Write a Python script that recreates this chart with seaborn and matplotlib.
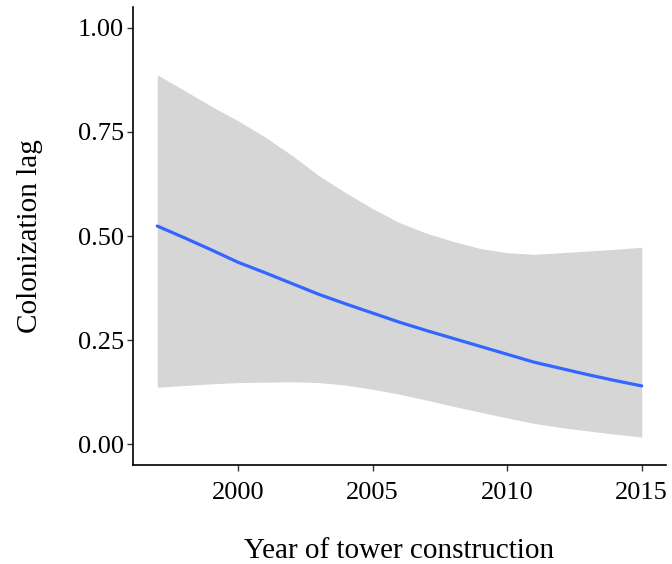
import numpy as np
import pandas as pd
import matplotlib
matplotlib.use("Agg")
import matplotlib.pyplot as plt
import seaborn as sns

# Fitted values (one per year).
years = [1997, 1998, 1999, 2000, 2001, 2002, 2003, 2004, 2005, 2006,
         2007, 2008, 2009, 2010, 2011, 2012, 2013, 2014, 2015]
fit = [0.524, 0.496, 0.467, 0.437, 0.412, 0.386, 0.360, 0.337, 0.315, 0.293,
       0.273, 0.254, 0.235, 0.216, 0.197, 0.182, 0.167, 0.153, 0.140]
upper = [0.887, 0.850, 0.812, 0.777, 0.738, 0.694, 0.645, 0.604, 0.566, 0.532,
         0.507, 0.487, 0.470, 0.460, 0.456, 0.460, 0.464, 0.468, 0.473]
lower = [0.137, 0.141, 0.145, 0.148, 0.149, 0.150, 0.148, 0.142, 0.132, 0.120,
         0.106, 0.091, 0.077, 0.063, 0.050, 0.040, 0.032, 0.024, 0.017]

df = pd.DataFrame({"Year": years, "Lag": fit, "Upper": upper, "Lower": lower})

sns.set_theme(style="white")
plt.rcParams["font.family"] = ["Liberation Serif", "DejaVu Serif"]

fig = plt.figure(figsize=(6.72, 5.64), dpi=100)
ax = fig.add_axes([0.198, 0.1755, 0.793, 0.812])

# Confidence ribbon and smoothed line.
ax.fill_between(df["Year"], df["Lower"], df["Upper"], color="#D6D6D6", linewidth=0)
sns.lineplot(data=df, x="Year", y="Lag", ax=ax, color="#3366FF", linewidth=2.3)

ax.set_xlim(1996.1, 2015.9)
ax.set_ylim(-0.05, 1.05)
ax.set_xticks([2000, 2005, 2010, 2015])
ax.set_yticks([0.0, 0.25, 0.5, 0.75, 1.0])
ax.set_yticklabels(["0.00", "0.25", "0.50", "0.75", "1.00"])

sns.despine(ax=ax)
for side in ["left", "bottom"]:
    ax.spines[side].set_color("black")
    ax.spines[side].set_linewidth(1.2)

ax.tick_params(axis="both", which="both", bottom=True, left=True, length=4.5,
               width=1.0, color="#333333", labelsize=19, labelcolor="black",
               direction="out")
ax.tick_params(axis="x", pad=8)
ax.tick_params(axis="y", pad=2)

ax.set_xlabel("Year of tower construction", fontsize=21, color="black", labelpad=24)
ax.set_ylabel("Colonization lag", fontsize=21, color="black", labelpad=25)

fig.savefig("out.png", dpi=100)
